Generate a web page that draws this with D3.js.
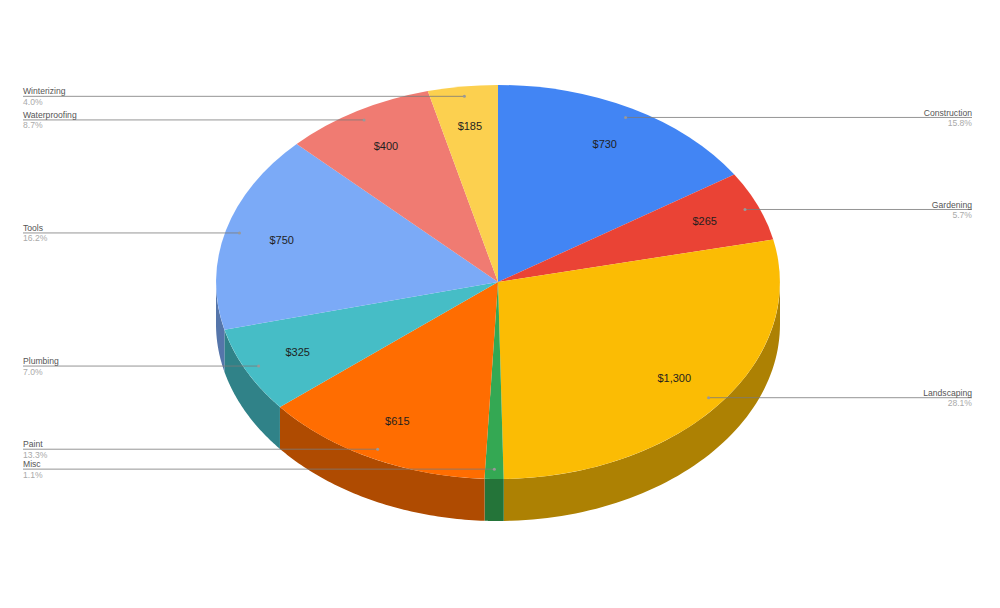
<!DOCTYPE html>
<html>
<head>
<meta charset="utf-8">
<script src="https://cdn.jsdelivr.net/npm/d3@7"></script>
<style>
  html, body { margin: 0; padding: 0; background: #fff; }
  text { font-family: "Liberation Sans", Arial, sans-serif; }
</style>
</head>
<body>
<svg id="root" width="1000" height="608"></svg>
<script>
const categories = ["Construction", "Gardening", "Landscaping", "Misc", "Paint", "Plumbing", "Tools", "Waterproofing", "Winterizing"]
const amounts = [730, 265, 1300, 50, 615, 325, 750, 400, 185]
const amountLabels = ["$730", "$265", "$1,300", "", "$615", "$325", "$750", "$400", "$185"]
const percentLabels = ["15.8%", "5.7%", "28.1%", "1.1%", "13.3%", "7.0%", "16.2%", "8.7%", "4.0%"]
const colors = ["#4285f4", "#ea4335", "#fbbc04", "#34a853", "#ff6d01", "#46bdc6", "#7baaf7", "#f07b72", "#fcd04f"]

const cx = 498, cy = 282, rx = 282, ry = 197, depth = 42
const leftX = 23, rightX = 972

const svg = d3.select("#root")

const pie = d3.pie().sort(null).value(d => d)
const slices = pie(amounts)

// point on the tilted pie, angle measured clockwise from the top
function px(angle, r = 1) { return cx + rx * r * Math.sin(angle) }
function py(angle, r = 1) { return cy - ry * r * Math.cos(angle) }

// side wall, only the front half of the ellipse can be seen
function wallPath(d) {
  const a0 = Math.max(d.startAngle, Math.PI / 2)
  const a1 = Math.min(d.endAngle, Math.PI * 3 / 2)
  if (a0 >= a1) return null
  const angles = d3.range(0, 61).map(i => a0 + (a1 - a0) * i / 60)
  const top = angles.map(a => [px(a), py(a)])
  const bottom = angles.slice().reverse().map(a => [px(a), py(a) + depth])
  return d3.line()(top.concat(bottom)) + "Z"
}

const wallColor = i => d3.rgb(colors[i]).darker(1.05)

svg.append("g")
  .selectAll("path")
  .data(slices)
  .join("path")
  .attr("d", wallPath)
  .attr("fill", (d, i) => wallColor(i))

// top face: unit arc squashed into an ellipse
const arc = d3.arc().innerRadius(0).outerRadius(1)
svg.append("g")
  .attr("transform", `translate(${cx},${cy}) scale(${rx},${ry})`)
  .selectAll("path")
  .data(slices)
  .join("path")
  .attr("d", arc)
  .attr("fill", (d, i) => colors[i])

// amount labels inside the slices
const midAngle = d => (d.startAngle + d.endAngle) / 2
svg.append("g")
  .selectAll("text")
  .data(slices)
  .join("text")
  .attr("x", d => px(midAngle(d), 0.795))
  .attr("y", d => py(midAngle(d), 0.795) + 3.5)
  .attr("text-anchor", "middle")
  .attr("font-size", 11)
  .attr("fill", "#1f1f1f")
  .text((d, i) => amountLabels[i])

// leader lines and outside labels
const leaders = svg.append("g")
slices.forEach((d, i) => {
  const m = midAngle(d)
  const isRight = m < Math.PI
  const x0 = px(m, 0.95), y0 = py(m, 0.95)
  const xEnd = isRight ? rightX : leftX
  const anchor = isRight ? "end" : "start"

  leaders.append("line")
    .attr("x1", x0).attr("y1", y0)
    .attr("x2", xEnd).attr("y2", y0)
    .attr("stroke", "#7a7a7a")
    .attr("stroke-opacity", 0.8)
    .attr("stroke-width", 1)
  leaders.append("circle")
    .attr("cx", x0).attr("cy", y0).attr("r", 1.5)
    .attr("fill", "#999")
  leaders.append("text")
    .attr("x", xEnd).attr("y", y0 - 1.9)
    .attr("text-anchor", anchor)
    .attr("font-size", 8.6)
    .attr("fill", "#555")
    .text(categories[i])
  leaders.append("text")
    .attr("x", xEnd).attr("y", y0 + 8.5)
    .attr("text-anchor", anchor)
    .attr("font-size", 8.6)
    .attr("fill", "#aaa")
    .text(percentLabels[i])
})
</script>
</body>
</html>
